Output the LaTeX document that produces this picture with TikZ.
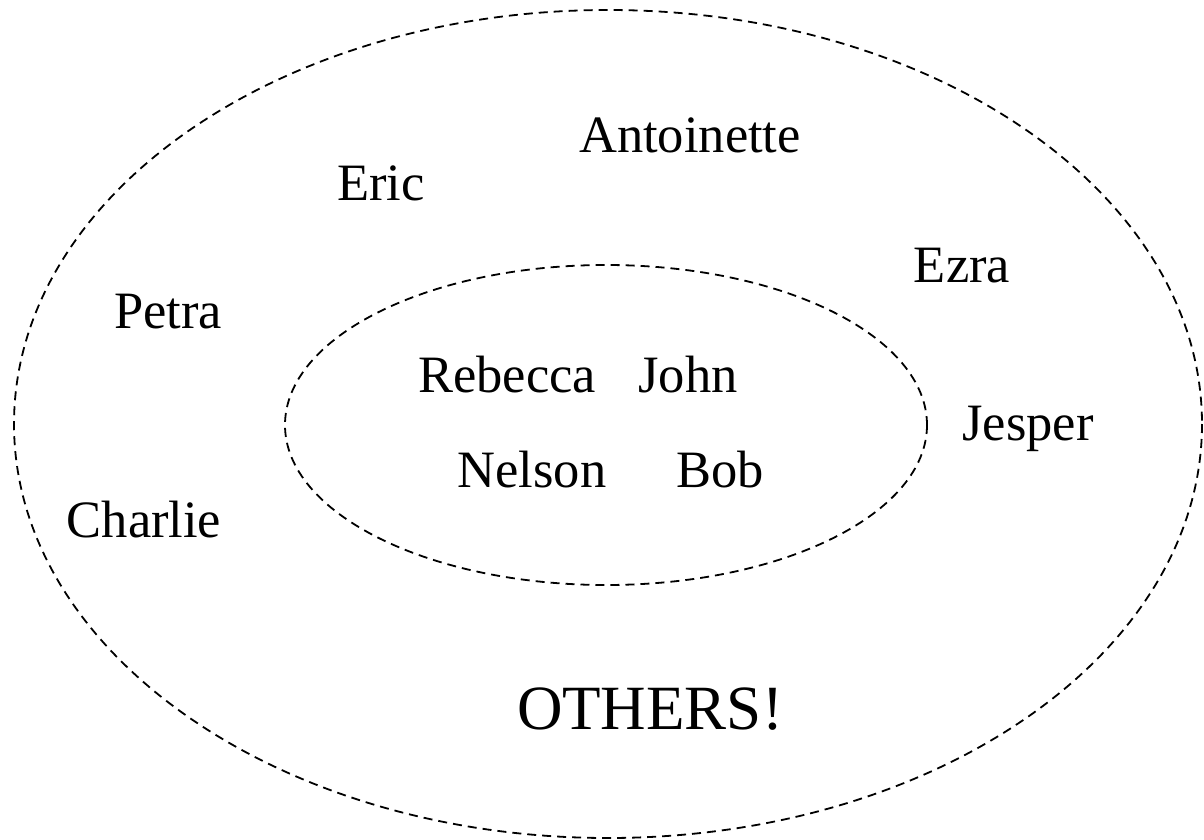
\documentclass[tikz,border=0pt]{standalone}
\usepackage{fontspec}
\setmainfont{Liberation Serif}
\begin{document}
\begin{tikzpicture}[x=0.5pt,y=-0.5pt,
  ring/.style={draw=black,line width=0.9pt,dash pattern=on 4.5pt off 3pt},
  person/.style={font=\fontsize{26.25pt}{30pt}\selectfont,anchor=base,inner sep=0pt},
  bigtext/.style={font=\fontsize{31.5pt}{36pt}\selectfont,anchor=base,inner sep=0pt}]
\useasboundingbox (0,0) rectangle (1204,840);
\draw[ring] (608,424) ellipse [x radius=594, y radius=414];
\draw[ring] (606,425) ellipse [x radius=321, y radius=160];
\node[person] (antoinette) at (690,152) {Antoinette};
\node[person] (eric) at (381,200) {Eric};
\node[person] (ezra) at (962,282) {Ezra};
\node[person] (petra) at (168,328) {Petra};
\node[person] (rebecca) at (507,392) {Rebecca};
\node[person] (john) at (688,392) {John};
\node[person] (jesper) at (1028,440) {Jesper};
\node[person] (nelson) at (532,487) {Nelson};
\node[person] (bob) at (720,487) {Bob};
\node[person] (charlie) at (144,537) {Charlie};
\node[bigtext] (others) at (650,729) {OTHERS!};
\end{tikzpicture}
\end{document}
